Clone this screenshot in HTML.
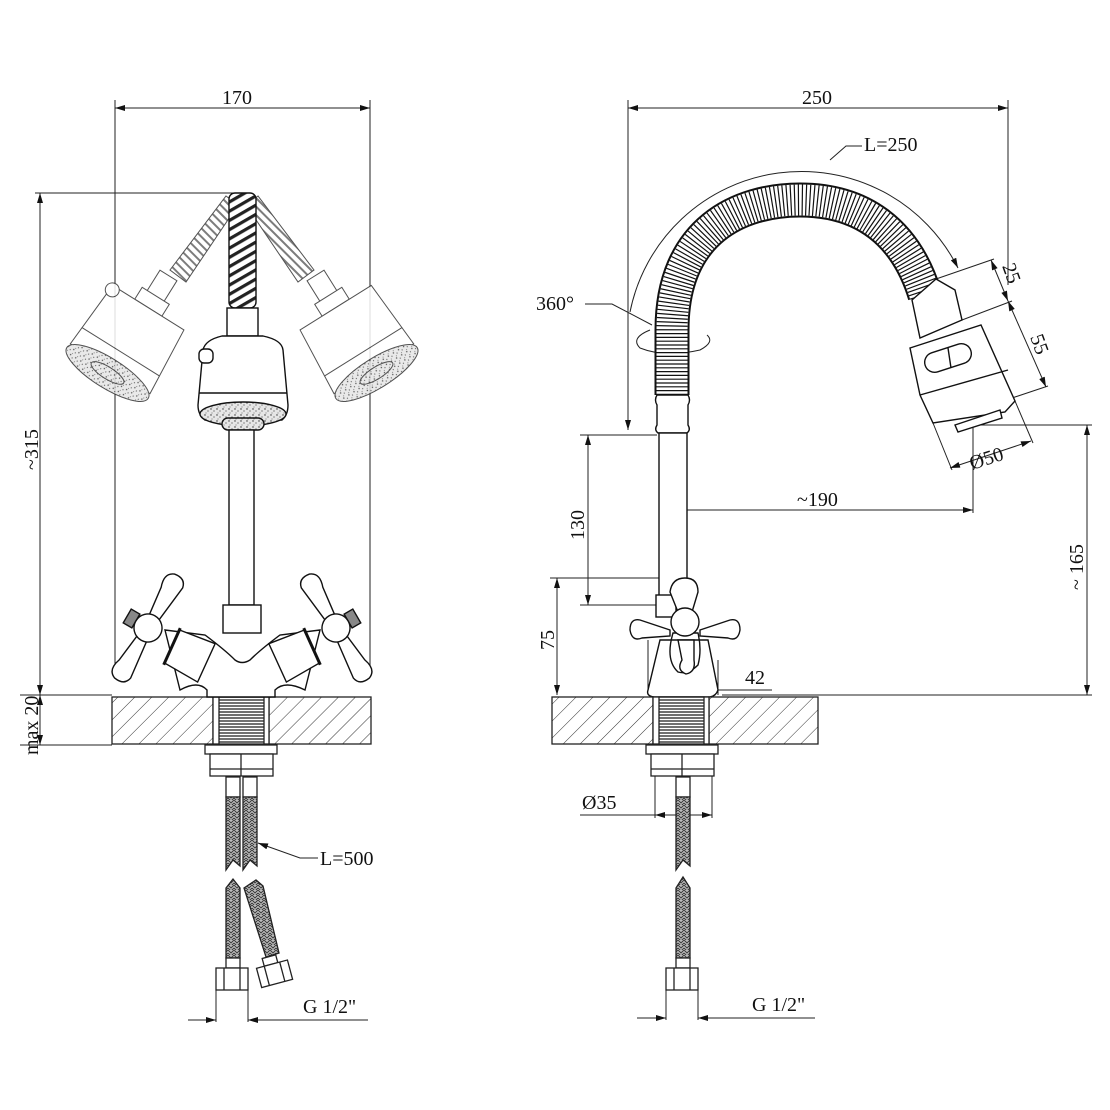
<!DOCTYPE html>
<html><head><meta charset="utf-8"><style>
html,body{margin:0;padding:0;background:#fff}
svg{display:block}
text{font-family:"Liberation Serif",serif;font-size:20px;fill:#111}
</style></head><body>
<svg width="1110" height="1110" viewBox="0 0 1110 1110" xmlns="http://www.w3.org/2000/svg">
<defs>
<pattern id="hatch" width="12" height="12" patternUnits="userSpaceOnUse" patternTransform="rotate(45)">
<rect width="12" height="12" fill="#fff"/><line x1="0" y1="0" x2="0" y2="12" stroke="#333" stroke-width="1"/></pattern>
<pattern id="thread" width="4" height="3" patternUnits="userSpaceOnUse">
<rect width="4" height="3" fill="#fff"/><line x1="0" y1="1" x2="4" y2="1" stroke="#222" stroke-width="1.3"/></pattern>
<pattern id="braid" width="6" height="5" patternUnits="userSpaceOnUse">
<rect width="6" height="5" fill="#bbb"/><path d="M0 0 L3 3 L6 0 M0 3 L3 6 L6 3" stroke="#333" fill="none" stroke-width="0.9"/></pattern>
<pattern id="diag" width="8" height="8" patternUnits="userSpaceOnUse" patternTransform="rotate(-30)">
<rect width="8" height="8" fill="#fff"/><rect x="0" y="0" width="8" height="3.2" fill="#222"/></pattern>
<pattern id="diagl" width="6" height="6" patternUnits="userSpaceOnUse" patternTransform="rotate(45)">
<rect width="6" height="6" fill="#fff"/><rect x="0" y="0" width="6" height="2" fill="#666"/></pattern>
<pattern id="speck" width="6" height="6" patternUnits="userSpaceOnUse">
<rect width="6" height="6" fill="#e6e6e6"/><circle cx="1" cy="1" r="0.7" fill="#333"/><circle cx="4" cy="3" r="0.6" fill="#444"/><circle cx="2" cy="5" r="0.5" fill="#555"/></pattern>
<marker id="ar" viewBox="0 0 10 6" refX="10" refY="3" markerWidth="14" markerHeight="6" markerUnits="userSpaceOnUse" orient="auto-start-reverse">
<path d="M0 0 L10 3 L0 6 z" fill="#111"/></marker>
</defs>

<g stroke="#222" stroke-width="1" fill="none">
<line x1="115" y1="100" x2="115" y2="665"/>
<line x1="370" y1="100" x2="370" y2="665"/>
<line x1="115" y1="108" x2="370" y2="108" marker-start="url(#ar)" marker-end="url(#ar)"/>
<line x1="35" y1="193" x2="240" y2="193"/>
<line x1="20" y1="695" x2="112" y2="695"/>
<line x1="20" y1="745" x2="112" y2="745"/>
<line x1="40" y1="193" x2="40" y2="695" marker-start="url(#ar)" marker-end="url(#ar)"/>
<line x1="40" y1="695" x2="40" y2="745" marker-start="url(#ar)" marker-end="url(#ar)"/>
<polyline points="258,843 300,858 318,858" marker-start="url(#ar)"/>
<line x1="216" y1="985" x2="216" y2="1022"/><line x1="248" y1="985" x2="248" y2="1022"/>
<line x1="188" y1="1020" x2="216" y2="1020" marker-end="url(#ar)"/>
<line x1="368" y1="1020" x2="248" y2="1020" marker-end="url(#ar)"/>
</g>
<text x="222" y="104">170</text>
<text transform="translate(38,470) rotate(-90)">~315</text>
<text transform="translate(38,755) rotate(-90)">max 20</text>
<text x="320" y="865">L=500</text>
<text x="303" y="1013">G 1/2"</text>

<g stroke="#222" stroke-width="1.3">
<rect x="112" y="697" width="101" height="47" fill="url(#hatch)"/>
<rect x="269" y="697" width="102" height="47" fill="url(#hatch)"/>
<rect x="213" y="697" width="56" height="47" fill="#fff"/>
<rect x="219" y="697" width="45" height="47" fill="url(#thread)"/>
<rect x="205" y="745" width="72" height="9" fill="#fff"/>
<rect x="210" y="754" width="63" height="22" fill="#fff"/>
<line x1="241" y1="754" x2="241" y2="776"/><line x1="210" y1="769" x2="273" y2="769"/>
<rect x="226" y="777" width="14" height="20" fill="#fff"/><rect x="243" y="777" width="14" height="20" fill="#fff"/>
<polygon points="226,797 240,797 240,866 233,860 226,870" fill="url(#braid)"/>
<polygon points="243,797 257,797 257,866 250,860 243,870" fill="url(#braid)"/>
<polygon points="226,888 233,879 240,888 240,958 226,958" fill="url(#braid)"/>
<rect x="226" y="958" width="14" height="10" fill="#fff"/>
<rect x="216" y="968" width="32" height="22" fill="#fff"/><line x1="224" y1="968" x2="224" y2="990"/><line x1="240" y1="968" x2="240" y2="990"/>
<polygon points="244,888 256,880 263,886 279,953 266,957" fill="url(#braid)"/>
<g transform="translate(273,968) rotate(-15)"><rect x="-8" y="-12" width="14" height="8" fill="#fff"/><rect x="-16" y="-4" width="32" height="20" fill="#fff"/><line x1="-8" y1="-4" x2="-8" y2="16"/><line x1="8" y1="-4" x2="8" y2="16"/></g>
</g>

<!-- left faucet ghosts -->
<g stroke="#333" stroke-width="1" fill="#fff" opacity="0.85">
<polygon points="226,196 238,205 186,282 170,270" fill="url(#diagl)"/>
<g transform="translate(125,345) rotate(32)">
<rect x="-10" y="-82" width="20" height="26"/>
<rect x="-16" y="-58" width="32" height="14"/>
<path d="M-42 -44 L42 -44 L47 28 L-47 28 Z"/>
<line x1="-46" y1="8" x2="46" y2="8"/>
<ellipse cx="0" cy="33" rx="48" ry="15" fill="url(#speck)"/>
<ellipse cx="0" cy="33" rx="19" ry="6" fill="url(#speck)"/>
<circle cx="-40" cy="-40" r="7"/>
</g>
<polygon points="258,196 246,205 298,282 314,270" fill="url(#diagl)"/>
<g transform="translate(359,345) rotate(-32)">
<rect x="-10" y="-82" width="20" height="26"/>
<rect x="-16" y="-58" width="32" height="14"/>
<path d="M-42 -44 L42 -44 L47 28 L-47 28 Z"/>
<line x1="-46" y1="8" x2="46" y2="8"/>
<ellipse cx="0" cy="33" rx="48" ry="15" fill="url(#speck)"/>
<ellipse cx="0" cy="33" rx="19" ry="6" fill="url(#speck)"/>
</g>
</g>
<g stroke="#111" stroke-width="1.4" fill="#fff">
<rect x="229" y="193" width="27" height="115" rx="6" fill="url(#diag)"/>
<rect x="227" y="308" width="31" height="28"/>
<path d="M222 336 L263 336 Q282 340 283 350 L288 405 Q288 415 282 420 L205 420 Q198 415 198 405 L203 350 Q205 340 222 336 Z"/>
<line x1="199" y1="393" x2="287" y2="393"/>
<ellipse cx="243" cy="414" rx="43" ry="12" fill="url(#speck)"/>
<rect x="222" y="418" width="42" height="12" rx="6" fill="url(#speck)"/>
<rect x="199" y="349" width="14" height="14" rx="5"/>
<rect x="229" y="430" width="25" height="175"/>
<rect x="223" y="605" width="38" height="28"/>
<path d="M165 630 L205 635 Q225 650 235 660 Q242 665 250 660 Q260 650 280 635 L320 630 L305 690 Q285 680 275 690 L275 697 L207 697 L207 690 Q198 680 180 690 Z"/>
<g transform="translate(148,628) rotate(30)">
<path d="M28 -14 L66 -20 L70 22 L32 22 Z"/>
<line x1="28" y1="-16" x2="32" y2="24" stroke-width="3"/>
<path d="M-5 -8 L-9 -42 Q-14 -56 -4 -60 Q8 -62 10 -52 L5 -8 Z"/>
<path d="M-5 8 L-9 42 Q-14 56 -4 60 Q8 62 10 52 L5 8 Z"/>
<rect x="-24" y="-8" width="10" height="16" fill="#888"/>
<circle cx="0" cy="0" r="14"/>
</g>
<g transform="translate(336,628) rotate(-30)">
<path d="M-28 -14 L-66 -20 L-70 22 L-32 22 Z"/>
<line x1="-28" y1="-16" x2="-32" y2="24" stroke-width="3"/>
<path d="M5 -8 L9 -42 Q14 -56 4 -60 Q-8 -62 -10 -52 L-5 -8 Z"/>
<path d="M5 8 L9 42 Q14 56 4 60 Q-8 62 -10 52 L-5 8 Z"/>
<rect x="14" y="-8" width="10" height="16" fill="#888"/>
<circle cx="0" cy="0" r="14"/>
</g>
</g>

<!-- ===== RIGHT VIEW ===== -->
<g stroke="#222" stroke-width="1" fill="none">
<line x1="628" y1="100" x2="628" y2="430" marker-end="url(#ar)"/>
<line x1="1008" y1="100" x2="1008" y2="285"/>
<line x1="628" y1="108" x2="1008" y2="108" marker-start="url(#ar)" marker-end="url(#ar)"/>
<path d="M630 312 A175 175 0 0 1 958 268" marker-end="url(#ar)"/>
<polyline points="830,160 846,146 862,146"/>
<polyline points="585,304 612,304 652,325" />
<path d="M650 330 Q630 338 640 348 Q665 358 700 350 Q715 342 707 335"/>
<line x1="580" y1="435" x2="657" y2="435"/>
<line x1="580" y1="605" x2="660" y2="605"/>
<line x1="588" y1="435" x2="588" y2="605" marker-start="url(#ar)" marker-end="url(#ar)"/>
<line x1="550" y1="578" x2="660" y2="578"/>
<line x1="557" y1="578" x2="557" y2="695" marker-start="url(#ar)" marker-end="url(#ar)"/>
<line x1="648" y1="640" x2="648" y2="695"/><line x1="718" y1="660" x2="718" y2="695"/>
<line x1="648" y1="690" x2="718" y2="690" marker-start="url(#ar)" marker-end="url(#ar)"/>
<line x1="718" y1="690" x2="772" y2="690"/>
<line x1="672" y1="510" x2="973" y2="510" marker-start="url(#ar)" marker-end="url(#ar)"/>
<line x1="973" y1="425" x2="973" y2="513"/>
<line x1="975" y1="425" x2="1092" y2="425"/>
<line x1="722" y1="695" x2="1092" y2="695"/>
<line x1="1087" y1="425" x2="1087" y2="695" marker-start="url(#ar)" marker-end="url(#ar)"/>
<line x1="672" y1="390" x2="672" y2="600" stroke-dasharray="14 3 2 3"/>
<line x1="936" y1="279" x2="994" y2="259"/>
<line x1="962" y1="320" x2="1012" y2="301"/>
<line x1="1012" y1="398" x2="1048" y2="386"/>
<line x1="991" y1="260" x2="1008" y2="301" marker-start="url(#ar)" marker-end="url(#ar)"/>
<line x1="1008" y1="301" x2="1046" y2="387" marker-start="url(#ar)" marker-end="url(#ar)"/>
<line x1="933" y1="423" x2="952" y2="470"/>
<line x1="1015" y1="401" x2="1033" y2="443"/>
<line x1="950" y1="468" x2="1031" y2="441" marker-start="url(#ar)" marker-end="url(#ar)"/>
<line x1="655" y1="775" x2="655" y2="818"/><line x1="712" y1="775" x2="712" y2="818"/>
<line x1="580" y1="815" x2="655" y2="815"/>
<line x1="655" y1="815" x2="712" y2="815" marker-start="url(#ar)" marker-end="url(#ar)"/>
<line x1="666" y1="985" x2="666" y2="1020"/><line x1="698" y1="985" x2="698" y2="1020"/>
<line x1="637" y1="1018" x2="666" y2="1018" marker-end="url(#ar)"/>
<line x1="815" y1="1018" x2="698" y2="1018" marker-end="url(#ar)"/>
</g>
<text x="802" y="104">250</text>
<text x="864" y="151">L=250</text>
<text x="536" y="310">360°</text>
<text transform="translate(584,540) rotate(-90)">130</text>
<text transform="translate(554,650) rotate(-90)">75</text>
<text x="745" y="684">42</text>
<text x="797" y="506">~190</text>
<text transform="translate(1083,590) rotate(-90)">~ 165</text>
<text transform="translate(1002,266) rotate(70)">25</text>
<text transform="translate(1030,337) rotate(70)">55</text>
<text transform="translate(972,470) rotate(-18)">Ø50</text>
<text x="582" y="809">Ø35</text>
<text x="752" y="1011">G 1/2"</text>

<g fill="none">
<path d="M672 395 L672 330 C672 230 740 200 800 200 C860 200 905 230 925 295" stroke="#111" stroke-width="35"/>
<path d="M672 395 L672 330 C672 230 740 200 800 200 C860 200 905 230 925 295" stroke="#fff" stroke-width="31"/>
<path d="M672 395 L672 330 C672 230 740 200 800 200 C860 200 905 230 925 295" stroke="#111" stroke-width="31" stroke-dasharray="1.2 2.6"/>
</g>
<g stroke="#111" stroke-width="1.4" fill="#fff">
<polygon points="912,300 936,279 955,290 962,320 920,338"/>
<polygon points="910,348 981,325 1015,401 1005,412 933,423 920,395"/>
<line x1="920" y1="395" x2="1008" y2="370"/>
<polygon points="955,425 1000,410 1002,418 958,432"/>
<rect x="924" y="348" width="48" height="20" rx="10" transform="rotate(-18 948 358)"/>
<line x1="948" y1="348" x2="951" y2="368"/>
<path d="M657 395 Q654 400 657 405 L657 425 Q654 430 658 433 L687 433 Q691 430 688 425 L688 405 Q691 400 688 395 Z"/>
<rect x="659" y="433" width="28" height="170"/>
<rect x="656" y="595" width="20" height="22"/>
<path d="M660 640 L708 640 L718 690 Q716 696 710 697 L654 697 Q646 696 648 690 Z"/>
<path d="M673 633 Q665 660 678 672 Q688 675 698 665 Q702 650 698 633 Z" fill="none"/>
<path d="M670 630 L640 620 Q630 618 630 630 Q632 642 642 638 L670 636 Z"/>
<path d="M700 630 L730 620 Q740 618 740 630 Q738 642 728 638 L700 636 Z"/>
<path d="M678 612 L670 592 Q672 578 685 578 Q698 578 698 592 L692 612 Z"/>
<path d="M678 640 L682 660 Q676 670 686 674 Q696 672 694 660 L694 640 Z"/>
<circle cx="685" cy="622" r="14"/>
</g>
<g stroke="#222" stroke-width="1.3">
<rect x="552" y="697" width="101" height="47" fill="url(#hatch)"/>
<rect x="709" y="697" width="109" height="47" fill="url(#hatch)"/>
<rect x="653" y="697" width="56" height="47" fill="#fff"/>
<rect x="659" y="697" width="45" height="47" fill="url(#thread)"/>
<rect x="646" y="745" width="72" height="9" fill="#fff"/>
<rect x="651" y="754" width="63" height="22" fill="#fff"/>
<line x1="682" y1="754" x2="682" y2="776"/><line x1="651" y1="769" x2="714" y2="769"/>
<rect x="676" y="777" width="14" height="20" fill="#fff"/>
<polygon points="676,797 690,797 690,866 683,860 676,870" fill="url(#braid)"/>
<polygon points="676,888 683,877 690,888 690,958 676,958" fill="url(#braid)"/>
<rect x="676" y="958" width="14" height="10" fill="#fff"/>
<rect x="666" y="968" width="32" height="22" fill="#fff"/><line x1="674" y1="968" x2="674" y2="990"/><line x1="690" y1="968" x2="690" y2="990"/>
</g>
</svg>
</body></html>
